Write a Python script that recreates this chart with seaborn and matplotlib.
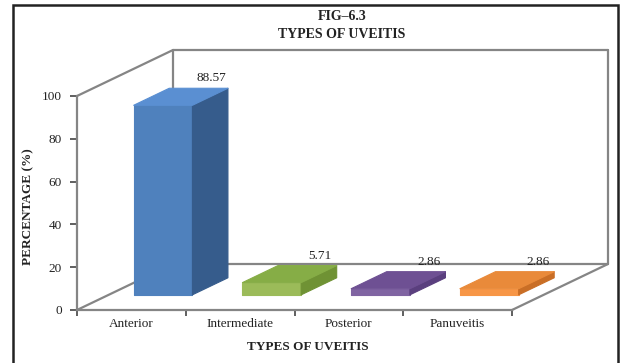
import matplotlib
matplotlib.use("Agg")
import matplotlib.pyplot as plt
import numpy as np
import pandas as pd
import seaborn as sns
from matplotlib.transforms import Affine2D, IdentityTransform
from matplotlib.patches import Polygon, Rectangle
from matplotlib.lines import Line2D

# --- data ---------------------------------------------------------------
categories = ["Anterior", "Intermediate", "Posterior", "Panuveitis"]
percentages = [88.57, 5.71, 2.86, 2.86]
value_labels = ["88.57", "5.71", "2.86", "2.86"]
y_ticks = [0, 20, 40, 60, 80, 100]

# --- styling ------------------------------------------------------------
front_colors = ["#4f81bd", "#9bbb59", "#8064a2", "#f79646"]
top_colors = ["#5a8fd2", "#86ad46", "#6e5093", "#e98a3a"]
side_colors = ["#365c8c", "#6f9234", "#5a3f7e", "#c96e26"]
wall_color = "#858585"
text_color = "#222222"

sns.set_theme(style="white")
plt.rcParams["font.family"] = ["Liberation Serif", "DejaVu Serif"]

W, H = 620, 363
fig = plt.figure(figsize=(W / 100, H / 100), dpi=100)
fig.patch.set_facecolor("white")

# front plane of the 3-D box, in pixels
x_left, x_right = 77, 512
y_zero, y_top = 310, 96
ax = fig.add_axes([x_left / W, (H - y_zero) / H,
                   (x_right - x_left) / W, (y_zero - y_top) / H])
ax.set_zorder(1)

df = pd.DataFrame({"type": categories, "pct": percentages})
sns.barplot(data=df, x="type", y="pct", hue="type", palette=front_colors,
            width=0.54, saturation=1, legend=False, ax=ax, zorder=5)
ax.set_xlim(-0.5, len(categories) - 0.5)
ax.set_ylim(0, 100)

# depth of the box (pixel offset at full depth) and bar depth range
DX, DY = 96, 46
z0, z1 = 0.33, 0.70


def depth(z):
    return Affine2D().translate(DX * z, DY * z)


def proj(x, y, z):
    px, py = ax.transData.transform((x, y))
    return (px + DX * z, py + DY * z)


fig.canvas.draw()

# walls and floor edges of the box (drawn behind the axes)
wall_segments = [
    [proj(-0.5, 0, 1), proj(3.5, 0, 1)],
    [proj(-0.5, 100, 1), proj(3.5, 100, 1)],
    [proj(-0.5, 0, 1), proj(-0.5, 100, 1)],
    [proj(3.5, 0, 1), proj(3.5, 100, 1)],
    [proj(-0.5, 0, 0), proj(-0.5, 0, 1)],
    [proj(-0.5, 100, 0), proj(-0.5, 100, 1)],
    [proj(3.5, 0, 0), proj(3.5, 0, 1)],
]
for seg in wall_segments:
    (xa, ya), (xb, yb) = seg
    fig.add_artist(Line2D([xa, xb], [ya, yb], transform=IdentityTransform(),
                          color=wall_color, lw=1.6, zorder=0.5,
                          solid_capstyle="round"))

# turn the flat seaborn bars into prisms
for i, patch in enumerate(ax.patches):
    x0 = patch.get_x()
    w = patch.get_width()
    h = patch.get_height()
    patch.set_transform(ax.transData + depth(z0))
    patch.set_clip_on(False)
    patch.set_edgecolor(front_colors[i])
    patch.set_linewidth(0.8)
    patch.set_joinstyle("round")
    side = [proj(x0 + w, 0, z0), proj(x0 + w, 0, z1),
            proj(x0 + w, h, z1), proj(x0 + w, h, z0)]
    top = [proj(x0, h, z0), proj(x0 + w, h, z0),
           proj(x0 + w, h, z1), proj(x0, h, z1)]
    for pts, col in ((side, side_colors[i]), (top, top_colors[i])):
        poly = Polygon(pts, closed=True, transform=IdentityTransform(),
                       facecolor=col, edgecolor=col, lw=0.8,
                       joinstyle="round", zorder=6)
        fig.add_artist(poly)
    # value label floating above the back of the bar
    lx, ly = proj(x0 + w / 2, h, 0)
    fig.text(lx + 80, ly + 42, value_labels[i], transform=IdentityTransform(),
             ha="center", va="center", fontsize=9.5, color=text_color,
             zorder=8)

# axes: left and bottom edges of the front plane
sns.despine(ax=ax, top=True, right=True)
for side_name in ("left", "bottom"):
    ax.spines[side_name].set_color(wall_color)
    ax.spines[side_name].set_linewidth(1.6)
    ax.spines[side_name].set_zorder(1)

ax.set_yticks(y_ticks)
ax.set_yticklabels([str(t) for t in y_ticks], fontsize=9.5, color=text_color)
ax.set_xticks(np.arange(-0.5, len(categories), 1.0), minor=True)
ax.set_xticks(range(len(categories)))
ax.set_xticklabels(categories, fontsize=9.5, color=text_color)
ax.tick_params(axis="y", which="major", length=5, width=1.2,
               color="#444444", left=True, pad=6)
ax.tick_params(axis="x", which="major", length=0, pad=6)
ax.tick_params(axis="x", which="minor", length=4, width=1.2,
               color="#444444", bottom=True)

ax.set_xlabel("TYPES OF UVEITIS", fontsize=9.5, fontweight="bold",
              color=text_color)
ax.set_ylabel("PERCENTAGE (%)", fontsize=9.5, fontweight="bold",
              color=text_color)
ax.xaxis.set_label_coords((308 - x_left) / (x_right - x_left),
                          (y_zero - 341) / (y_zero - y_top))
ax.yaxis.set_label_coords((34 - x_left) / (x_right - x_left),
                          (y_zero - 207) / (y_zero - y_top))
ax.patch.set_alpha(0)

fig.text(342 / W, 1 - 17 / H, "FIG\u20136.3", ha="center", va="center",
         fontsize=10, fontweight="bold", color=text_color)
fig.text(342 / W, 1 - 35 / H, "TYPES OF UVEITIS", ha="center", va="center",
         fontsize=10, fontweight="bold", color=text_color)

# outer frame of the chart area (its bottom edge runs below the image)
fig.add_artist(Rectangle((13, -10), 605, H - 5 + 10,
                         transform=IdentityTransform(), fill=False,
                         edgecolor=text_color, lw=1.8, zorder=0.2))

fig.savefig("out.png", dpi=100, facecolor="white")
